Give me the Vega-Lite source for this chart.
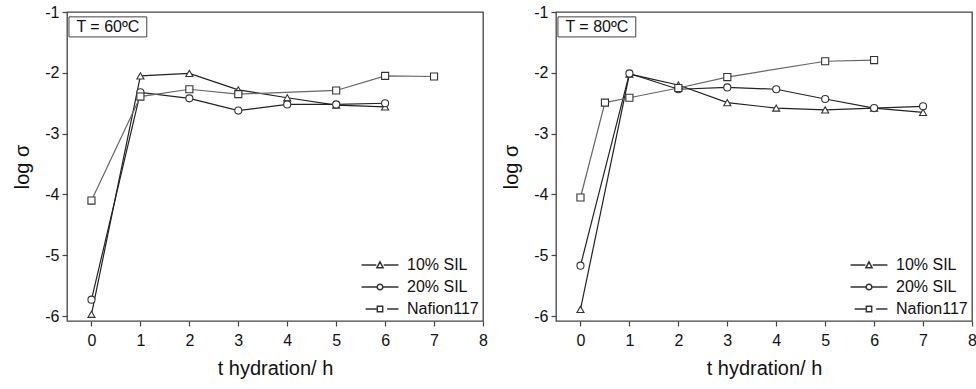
{
  "$schema": "https://vega.github.io/schema/vega-lite/v6.json",
  "padding": {"left": 12, "top": 3, "right": 0, "bottom": 0},
  "background": "white",
  "config": {
    "font": "Liberation Sans",
    "view": {"stroke": "#444", "strokeWidth": 1.3},
    "axis": {
      "domain": false,
      "grid": false,
      "tickColor": "#444",
      "tickWidth": 1.2,
      "labelColor": "#111",
      "titleColor": "#111",
      "labelFont": "Liberation Sans",
      "titleFont": "Liberation Sans",
      "labelFontSize": 16,
      "titleFontSize": 20,
      "titleFontWeight": "normal",
      "labelOverlap": false,
      "labelFlush": false
    },
    "legend": {"labelFont": "Liberation Sans"}
  },
  "datasets": {
    "cond": [
      {"T": "60", "series": "10% SIL", "t": 0, "logs": -5.97},
      {"T": "60", "series": "10% SIL", "t": 1, "logs": -2.05},
      {"T": "60", "series": "10% SIL", "t": 2, "logs": -2.01},
      {"T": "60", "series": "10% SIL", "t": 3, "logs": -2.28},
      {"T": "60", "series": "10% SIL", "t": 4, "logs": -2.41},
      {"T": "60", "series": "10% SIL", "t": 5, "logs": -2.53},
      {"T": "60", "series": "10% SIL", "t": 6, "logs": -2.56},
      {"T": "60", "series": "20% SIL", "t": 0, "logs": -5.73},
      {"T": "60", "series": "20% SIL", "t": 1, "logs": -2.32},
      {"T": "60", "series": "20% SIL", "t": 2, "logs": -2.42},
      {"T": "60", "series": "20% SIL", "t": 3, "logs": -2.62},
      {"T": "60", "series": "20% SIL", "t": 4, "logs": -2.52},
      {"T": "60", "series": "20% SIL", "t": 5, "logs": -2.52},
      {"T": "60", "series": "20% SIL", "t": 6, "logs": -2.50},
      {"T": "60", "series": "Nafion117", "t": 0, "logs": -4.10},
      {"T": "60", "series": "Nafion117", "t": 1, "logs": -2.39},
      {"T": "60", "series": "Nafion117", "t": 2, "logs": -2.27},
      {"T": "60", "series": "Nafion117", "t": 3, "logs": -2.35},
      {"T": "60", "series": "Nafion117", "t": 5, "logs": -2.29},
      {"T": "60", "series": "Nafion117", "t": 6, "logs": -2.05},
      {"T": "60", "series": "Nafion117", "t": 7, "logs": -2.06},
      {"T": "80", "series": "10% SIL", "t": 0, "logs": -5.89},
      {"T": "80", "series": "10% SIL", "t": 1, "logs": -2.02},
      {"T": "80", "series": "10% SIL", "t": 2, "logs": -2.20},
      {"T": "80", "series": "10% SIL", "t": 3, "logs": -2.49},
      {"T": "80", "series": "10% SIL", "t": 4, "logs": -2.58},
      {"T": "80", "series": "10% SIL", "t": 5, "logs": -2.61},
      {"T": "80", "series": "10% SIL", "t": 6, "logs": -2.58},
      {"T": "80", "series": "10% SIL", "t": 7, "logs": -2.65},
      {"T": "80", "series": "20% SIL", "t": 0, "logs": -5.17},
      {"T": "80", "series": "20% SIL", "t": 1, "logs": -2.01},
      {"T": "80", "series": "20% SIL", "t": 2, "logs": -2.27},
      {"T": "80", "series": "20% SIL", "t": 3, "logs": -2.24},
      {"T": "80", "series": "20% SIL", "t": 4, "logs": -2.27},
      {"T": "80", "series": "20% SIL", "t": 5, "logs": -2.43},
      {"T": "80", "series": "20% SIL", "t": 6, "logs": -2.58},
      {"T": "80", "series": "20% SIL", "t": 7, "logs": -2.55},
      {"T": "80", "series": "Nafion117", "t": 0, "logs": -4.05},
      {"T": "80", "series": "Nafion117", "t": 0.5, "logs": -2.49},
      {"T": "80", "series": "Nafion117", "t": 1, "logs": -2.41},
      {"T": "80", "series": "Nafion117", "t": 2, "logs": -2.25},
      {"T": "80", "series": "Nafion117", "t": 3, "logs": -2.07},
      {"T": "80", "series": "Nafion117", "t": 5, "logs": -1.81},
      {"T": "80", "series": "Nafion117", "t": 6, "logs": -1.79}
    ],
    "labels": [
      {"T": "60", "label": "T = 60ºC"},
      {"T": "80", "label": "T = 80ºC"}
    ]
  },
  "spacing": 12,
  "resolve": {
    "scale": {"x": "independent", "y": "independent", "shape": "independent"},
    "legend": {"shape": "independent"}
  },
  "hconcat": [
    {
      "width": 416,
      "height": 309,
      "resolve": {"scale": {"shape": "independent"}, "legend": {"shape": "independent"}},
      "layer": [
        {
          "data": {"name": "cond"},
          "transform": [{"filter": "datum.T === '60' && datum.series !== 'Nafion117'"}],
          "mark": {"type": "line", "strokeWidth": 1.2, "color": "#222222"},
          "encoding": {
            "x": {"field": "t", "type": "quantitative",
              "scale": {"domain": [-0.5, 8], "nice": false, "zero": false},
              "axis": {"values": [0, 0.5, 1, 1.5, 2, 2.5, 3, 3.5, 4, 4.5, 5, 5.5, 6, 6.5, 7, 7.5, 8],
                "labelExpr": "datum.value % 1 === 0 ? '' + datum.value : ''",
                "tickSize": {"condition": {"test": "datum.value % 1 !== 0", "value": 3}, "value": 5},
                "labelPadding": 6, "title": "t hydration/ h", "titlePadding": 10}},
            "y": {"field": "logs", "type": "quantitative",
              "scale": {"domain": [-6.08, -1], "nice": false, "zero": false},
              "axis": {"values": [-6, -5.5, -5, -4.5, -4, -3.5, -3, -2.5, -2, -1.5, -1],
                "labelExpr": "datum.value % 1 === 0 ? '' + datum.value : ''",
                "tickSize": {"condition": {"test": "datum.value % 1 !== 0", "value": 3}, "value": 5},
                "labelPadding": 3, "title": "log σ", "titlePadding": 12}},
            "detail": {"field": "series"}
          }
        },
        {
          "data": {"name": "cond"},
          "transform": [{"filter": "datum.T === '60' && datum.series === 'Nafion117'"}],
          "mark": {"type": "line", "strokeWidth": 1.2, "color": "#666666"},
          "encoding": {
            "x": {"field": "t", "type": "quantitative"},
            "y": {"field": "logs", "type": "quantitative"}
          }
        },
        {
          "data": {"name": "cond"},
          "transform": [{"filter": "datum.T === '60'"}],
          "mark": {"type": "point", "filled": false, "color": "#333333", "strokeWidth": 1.1, "size": 420, "opacity": 0},
          "encoding": {
            "x": {"field": "t", "type": "quantitative"},
            "y": {"field": "logs", "type": "quantitative"},
            "shape": {"field": "series", "type": "nominal",
              "scale": {"domain": ["10% SIL", "20% SIL", "Nafion117"],
                "range": ["M-1.8,0H-0.36M0.36,0H1.8M-0.3,0.26L0,-0.3L0.3,0.26Z", "M-1.8,0H-0.3M0.3,0H1.8M0.28,0A0.28,0.28,0,1,1,-0.28,0A0.28,0.28,0,1,1,0.28,0Z", "M-1.4,0H-0.34M0.7,0H1.8M-0.26,-0.26H0.26V0.26H-0.26Z"]},
              "legend": {"title": null, "orient": "bottom-right", "offset": 4, "padding": 0,
                "labelFontSize": 16, "labelColor": "#111", "labelOffset": 16, "symbolSize": 420, "rowPadding": 3,
                "encode": {"symbols": {"stroke": {"value": "#333333"}, "fill": {"value": "white"}, "strokeWidth": {"value": 1.1}, "opacity": {"value": 1}, "size": {"value": 420}}}}
            }
          }
        },
        {
          "data": {"name": "cond"},
          "transform": [{"filter": "datum.T === '60'"}],
          "mark": {"type": "point", "filled": true, "fill": "white", "stroke": "#333333", "strokeWidth": 1.1, "size": 50, "opacity": 1},
          "encoding": {
            "x": {"field": "t", "type": "quantitative"},
            "y": {"field": "logs", "type": "quantitative"},
            "shape": {"field": "series", "type": "nominal",
              "scale": {"domain": ["10% SIL", "20% SIL", "Nafion117"], "range": ["triangle-up", "circle", "square"]},
              "legend": null}
          }
        },
        {
          "data": {"name": "labels"},
          "transform": [{"filter": "datum.T === '60'"}],
          "mark": {"type": "rect", "fill": "white", "stroke": "#444", "strokeWidth": 1},
          "encoding": {
            "x": {"datum": -0.46}, "x2": {"datum": 1.13},
            "y": {"datum": -1.08}, "y2": {"datum": -1.41}
          }
        },
        {
          "data": {"name": "labels"},
          "transform": [{"filter": "datum.T === '60'"}],
          "mark": {"type": "text", "fontSize": 16, "color": "#111", "align": "center", "baseline": "middle"},
          "encoding": {
            "x": {"datum": 0.335},
            "y": {"datum": -1.245},
            "text": {"field": "label"}
          }
        }
      ]
    },
    {
      "width": 416,
      "height": 309,
      "resolve": {"scale": {"shape": "independent"}, "legend": {"shape": "independent"}},
      "layer": [
        {
          "data": {"name": "cond"},
          "transform": [{"filter": "datum.T === '80' && datum.series !== 'Nafion117'"}],
          "mark": {"type": "line", "strokeWidth": 1.2, "color": "#222222"},
          "encoding": {
            "x": {"field": "t", "type": "quantitative",
              "scale": {"domain": [-0.5, 8], "nice": false, "zero": false},
              "axis": {"values": [0, 0.5, 1, 1.5, 2, 2.5, 3, 3.5, 4, 4.5, 5, 5.5, 6, 6.5, 7, 7.5, 8],
                "labelExpr": "datum.value % 1 === 0 ? '' + datum.value : ''",
                "tickSize": {"condition": {"test": "datum.value % 1 !== 0", "value": 3}, "value": 5},
                "labelPadding": 6, "title": "t hydration/ h", "titlePadding": 10}},
            "y": {"field": "logs", "type": "quantitative",
              "scale": {"domain": [-6.08, -1], "nice": false, "zero": false},
              "axis": {"values": [-6, -5.5, -5, -4.5, -4, -3.5, -3, -2.5, -2, -1.5, -1],
                "labelExpr": "datum.value % 1 === 0 ? '' + datum.value : ''",
                "tickSize": {"condition": {"test": "datum.value % 1 !== 0", "value": 3}, "value": 5},
                "labelPadding": 3, "title": "log σ", "titlePadding": 12}},
            "detail": {"field": "series"}
          }
        },
        {
          "data": {"name": "cond"},
          "transform": [{"filter": "datum.T === '80' && datum.series === 'Nafion117'"}],
          "mark": {"type": "line", "strokeWidth": 1.2, "color": "#666666"},
          "encoding": {
            "x": {"field": "t", "type": "quantitative"},
            "y": {"field": "logs", "type": "quantitative"}
          }
        },
        {
          "data": {"name": "cond"},
          "transform": [{"filter": "datum.T === '80'"}],
          "mark": {"type": "point", "filled": false, "color": "#333333", "strokeWidth": 1.1, "size": 420, "opacity": 0},
          "encoding": {
            "x": {"field": "t", "type": "quantitative"},
            "y": {"field": "logs", "type": "quantitative"},
            "shape": {"field": "series", "type": "nominal",
              "scale": {"domain": ["10% SIL", "20% SIL", "Nafion117"],
                "range": ["M-1.8,0H-0.36M0.36,0H1.8M-0.3,0.26L0,-0.3L0.3,0.26Z", "M-1.8,0H-0.3M0.3,0H1.8M0.28,0A0.28,0.28,0,1,1,-0.28,0A0.28,0.28,0,1,1,0.28,0Z", "M-1.4,0H-0.34M0.7,0H1.8M-0.26,-0.26H0.26V0.26H-0.26Z"]},
              "legend": {"title": null, "orient": "bottom-right", "offset": 4, "padding": 0,
                "labelFontSize": 16, "labelColor": "#111", "labelOffset": 16, "symbolSize": 420, "rowPadding": 3,
                "encode": {"symbols": {"stroke": {"value": "#333333"}, "fill": {"value": "white"}, "strokeWidth": {"value": 1.1}, "opacity": {"value": 1}, "size": {"value": 420}}}}
            }
          }
        },
        {
          "data": {"name": "cond"},
          "transform": [{"filter": "datum.T === '80'"}],
          "mark": {"type": "point", "filled": true, "fill": "white", "stroke": "#333333", "strokeWidth": 1.1, "size": 50, "opacity": 1},
          "encoding": {
            "x": {"field": "t", "type": "quantitative"},
            "y": {"field": "logs", "type": "quantitative"},
            "shape": {"field": "series", "type": "nominal",
              "scale": {"domain": ["10% SIL", "20% SIL", "Nafion117"], "range": ["triangle-up", "circle", "square"]},
              "legend": null}
          }
        },
        {
          "data": {"name": "labels"},
          "transform": [{"filter": "datum.T === '80'"}],
          "mark": {"type": "rect", "fill": "white", "stroke": "#444", "strokeWidth": 1},
          "encoding": {
            "x": {"datum": -0.46}, "x2": {"datum": 1.13},
            "y": {"datum": -1.08}, "y2": {"datum": -1.41}
          }
        },
        {
          "data": {"name": "labels"},
          "transform": [{"filter": "datum.T === '80'"}],
          "mark": {"type": "text", "fontSize": 16, "color": "#111", "align": "center", "baseline": "middle"},
          "encoding": {
            "x": {"datum": 0.335},
            "y": {"datum": -1.245},
            "text": {"field": "label"}
          }
        }
      ]
    }
  ]
}
